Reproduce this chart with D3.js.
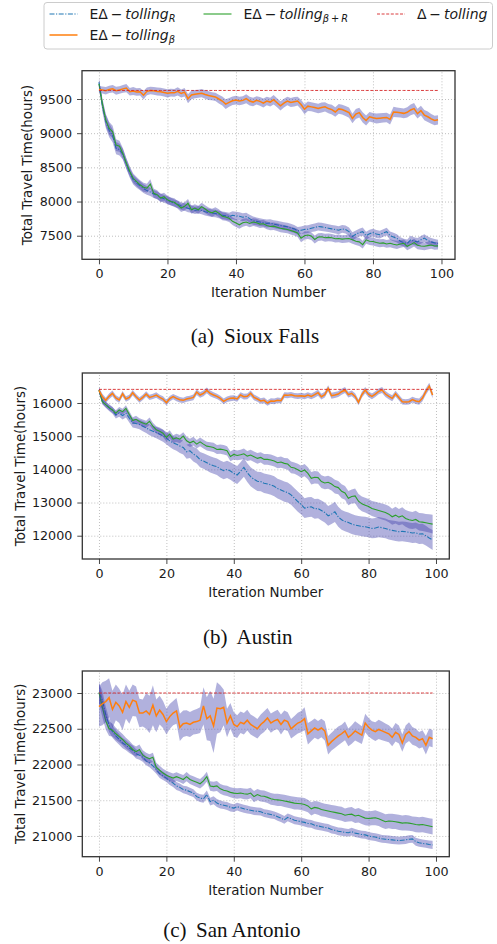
<!DOCTYPE html>
<html lang="en">
<head>
<meta charset="UTF-8">
<title>Total travel time per iteration</title>
<script src="https://d3js.org/d3.v7.min.js"></script>
<style>
    body { margin: 0; background: #fff; }
    svg { display: block; }
    .tick text { font-family: "DejaVu Sans", sans-serif; font-size: 12.7px; fill: #1a1a1a; }
    .tick line { stroke: #333; stroke-width: 0.9; }
    .grid line { stroke: #b0b0b0; stroke-width: 0.8; stroke-dasharray: 1,2; }
    .grid path, .axis path { display: none; }
    .frame { fill: none; stroke: #333; stroke-width: 1.3; }
    .band { fill: rgb(60,60,170); fill-opacity: 0.4; stroke: none; }
    .label { font-family: "DejaVu Sans", sans-serif; font-size: 13.4px; fill: #1a1a1a; }
    .caption { font-family: "Liberation Serif", "Times New Roman", serif; font-size: 21px; fill: #111; }
    .legend text { font-family: "DejaVu Sans", sans-serif; font-size: 14px; fill: #1a1a1a; }
</style>
</head>
<body>
<div id="chart"></div>
<script>
    var iterations = d3.range(100);
    var xTicks = [0, 20, 40, 60, 80, 100];

    // (a) Sioux Falls
    var sfYTicks = [7500, 8000, 8500, 9000, 9500];
    var sfDelta = 9625;
    var sfR = [9745,9400,9170,9040,8960,8780,8760,8690,8550,8420, 8320,8270,8230,8190,8160,8140,8110,8090,8060,8040,
        8020,8000,7975,7960,7935,7920,7900,7890,7870,7880, 7870,7850,7840,7830,7825,7810,7800,7790,7780,7800,
        7790,7785,7770,7780,7750,7720,7710,7700,7690,7680, 7685,7670,7660,7650,7640,7630,7615,7600,7570,7580,
        7590,7595,7610,7620,7635,7630,7620,7610,7600,7590, 7580,7600,7590,7560,7490,7520,7545,7560,7500,7530,
        7545,7525,7515,7540,7560,7500,7480,7460,7420,7400, 7385,7440,7420,7410,7440,7465,7430,7410,7395,7385];
    var sfRBand = [60,85,95,100,95,90,85,80,75,72, 70,68,66,64,62,60,60,58,57,56, 56,55,56,55,54,55,56,55,54,55,
        56,55,54,55,56,55,54,56,57,58, 60,58,57,56,58,60,58,57,56,58, 57,56,58,57,56,58,60,58,57,56,
        58,57,56,58,57,60,58,57,56,58, 57,56,58,60,62,58,57,60,58,57, 56,58,57,56,58,60,62,60,58,57,
        58,60,58,57,56,58,57,56,58,57];
    var sfBetaR = [9720,9430,9190,9070,9020,8825,8810,8700,8560,8440, 8340,8290,8245,8210,8195,8255,8120,8100,8050,8070,
        8025,8000,7990,7950,7905,7930,7975,7880,7905,7880, 7925,7890,7855,7835,7860,7830,7785,7775,7755,7710,
        7685,7660,7690,7700,7680,7700,7690,7670,7675,7650, 7635,7640,7625,7610,7600,7590,7575,7560,7540,7465,
        7500,7510,7495,7445,7480,7485,7470,7475,7470,7455, 7460,7450,7455,7460,7440,7420,7410,7370,7440,7420,
        7415,7400,7390,7395,7380,7390,7375,7365,7380,7390, 7345,7370,7400,7360,7350,7345,7355,7365,7350,7352];
    var sfBetaRBand = [60,80,90,95,90,85,80,78,75,72, 70,68,66,65,64,70,66,64,62,60, 60,58,58,57,58,60,62,58,57,58,
        58,57,56,58,57,56,58,57,56,55, 56,58,57,56,55,57,58,56,55,57, 56,55,57,58,56,55,57,56,58,60,
        58,57,56,58,57,56,58,57,56,55, 56,58,57,56,58,57,60,58,56,57, 58,56,57,58,56,57,58,60,57,56,
        58,57,56,58,57,56,58,57,56,55];
    var sfBeta = [9640,9632,9622,9641,9650,9622,9632,9648,9660,9607, 9617,9602,9607,9555,9612,9625,9620,9610,9605,9595,
        9583,9593,9590,9612,9580,9600,9505,9560,9570,9578, 9585,9565,9550,9540,9530,9500,9470,9425,9450,9475,
        9485,9470,9480,9505,9470,9455,9480,9465,9440,9470, 9455,9490,9445,9400,9440,9470,9450,9460,9470,9420,
        9350,9395,9385,9375,9360,9375,9385,9360,9345,9310, 9355,9345,9325,9300,9215,9280,9300,9230,9185,9240,
        9225,9215,9220,9225,9230,9200,9310,9305,9300,9290, 9305,9340,9360,9285,9330,9265,9240,9210,9185,9195];
    var sfBetaBand = [50,52,55,52,56,58,54,56,60,55, 58,56,55,62,58,56,57,60,58,57, 60,58,57,60,58,62,66,64,60,58,
        60,62,63,60,60,64,66,70,64,62, 64,62,60,66,64,62,62,64,66,62, 64,70,66,68,64,62,66,70,64,70,
        72,70,66,68,70,72,68,67,70,70, 72,70,72,75,70,72,72,75,72,70, 70,72,72,70,70,72,75,72,70,72,
        75,78,80,72,70,75,78,72,70,68];

    // (b) Austin
    var auYTicks = [12000, 13000, 14000, 15000, 16000];
    var auDelta = 16410;
    var auR = [16400,16060,15950,15860,15780,15640,15700,15620,15690,15540, 15400,15380,15350,15300,15250,15190,15150,15110,15060,15010,
        14940,14860,14800,14760,14700,14660,14530,14560,14460,14400, 14290,14250,14200,14150,14110,14080,14010,13960,14000,13950,
        13880,13830,13940,14060,13900,13780,13700,13640,13630,13580, 13560,13530,13490,13420,13380,13330,13300,13230,13130,13030,
        12940,12830,12860,12870,12810,12820,12760,12700,12600,12650, 12720,12570,12480,12430,12400,12350,12320,12300,12280,12270,
        12250,12220,12230,12260,12240,12220,12180,12160,12140,12120, 12130,12120,12100,12080,12090,12050,12060,12000,11930,11870];
    var auRBand = [80,90,95,100,105,110,115,120,125,130, 135,140,145,150,155,160,165,170,175,180, 185,190,195,200,205,210,212,218,222,226,
        230,234,238,242,246,250,254,258,262,266, 270,272,276,280,282,286,288,290,292,295, 296,298,300,300,302,305,300,298,302,305,
        300,298,302,300,298,295,300,302,298,300, 305,300,298,296,300,302,298,295,300,302, 298,300,302,305,300,298,295,300,302,298,
        300,302,298,300,305,302,300,298,295,300];
    var auBetaR = [16390,16040,15950,15860,15790,15690,15790,15740,15840,15650, 15470,15510,15440,15400,15360,15450,15300,15190,15150,15090,
        14960,15060,14910,14950,14910,15000,14860,14800,14850,14760, 14830,14760,14700,14680,14660,14600,14610,14590,14560,14390,
        14450,14420,14440,14470,14400,14430,14380,14330,14360,14300, 14300,14280,14250,14200,14220,14180,14160,14060,14040,13990,
        13930,13980,13880,13730,13760,13750,13630,13590,13610,13560, 13480,13450,13340,13290,13130,13180,13200,13040,12960,12920,
        12880,12820,12790,12760,12730,12700,12650,12570,12620,12560, 12600,12520,12480,12460,12490,12420,12410,12390,12370,12350];
    var auBetaRBand = [70,75,80,82,85,88,92,90,95,98, 100,102,100,105,108,110,106,112,115,114, 118,120,116,122,125,120,128,126,130,128,
        132,135,130,138,140,136,142,145,140,148, 150,146,152,155,150,158,155,160,156,162, 160,165,162,168,170,165,172,175,170,178,
        180,185,182,188,190,186,195,192,198,200, 205,202,210,208,215,212,220,218,225,222, 230,228,235,232,240,238,245,242,250,248,
        255,252,260,258,265,262,270,268,275,280];
    var auBeta = [16380,16190,16080,16200,16290,16150,16090,16280,16120,16170, 16310,16190,16090,16170,16270,16170,16200,16240,16170,16120,
        16010,16130,16190,16140,16100,16080,16120,16140,16170,16330, 16240,16290,16380,16290,16240,16200,16140,16050,16110,16140,
        16150,16120,16240,16190,16200,16290,16170,16120,16060,16080, 16000,16060,16050,16080,16070,16240,16230,16250,16220,16210,
        16220,16200,16240,16200,16250,16310,16190,16250,16440,16220, 16240,16270,16340,16390,16250,16290,16200,16020,16250,16390,
        16260,16200,16270,16350,16390,16270,16200,16140,16280,16160, 16040,16030,16040,16100,16060,16040,16150,16350,16510,16240];
    var auBetaBand = [90,85,80,85,90,85,80,85,80,82, 85,80,82,80,85,82,80,84,82,80, 85,82,80,84,82,80,85,82,84,86,
        85,88,90,86,84,82,80,85,82,84, 85,84,82,86,84,85,88,84,82,85, 86,84,85,82,84,86,88,85,84,86,
        88,85,86,88,90,92,88,86,95,90, 88,86,90,92,88,86,90,88,92,94, 90,88,86,90,92,88,86,90,88,86,
        85,84,86,88,90,92,95,98,100,95];

    // (c) San Antonio
    var saYTicks = [21000, 21500, 22000, 22500, 23000];
    var saDelta = 23000;
    var saR = [23000,22900,22700,22550,22460,22400,22350,22300,22270,22230, 22200,22150,22130,22100,22050,22020,21980,21930,21870,21840,
        21810,21770,21740,21700,21680,21650,21640,21620,21600,21550, 21530,21520,21580,21480,21500,21460,21440,21430,21420,21400,
        21390,21410,21395,21380,21370,21360,21350,21345,21340,21320, 21310,21300,21290,21270,21250,21225,21260,21240,21220,21210,
        21200,21190,21175,21170,21150,21140,21130,21120,21110,21090, 21080,21065,21060,21050,21045,21060,21040,21030,21020,21015,
        21000,20990,20985,20970,20960,20955,20950,20945,20940,20935, 20940,20945,20955,20960,20920,20905,20895,20890,20880,20875];
    var saRBand = [140,130,110,95,85,80,75,72,70,68, 66,65,64,62,62,60,60,58,58,57, 56,56,55,56,55,54,55,56,55,54,
        55,56,55,54,55,56,55,54,55,56, 55,54,55,56,55,54,56,55,54,55, 56,55,54,56,55,54,55,56,55,54,
        55,56,55,54,56,55,54,55,56,55, 54,55,56,55,54,55,56,55,54,55, 56,55,54,56,55,54,55,56,55,54,
        55,56,55,54,56,55,54,55,56,58];
    var saBetaR = [23010,22800,22610,22500,22480,22430,22390,22350,22300,22260, 22210,22180,22210,22130,22100,22080,22100,21960,21920,21880,
        21850,21830,21810,21830,21810,21790,21830,21790,21770,21750, 21730,21770,21830,21700,21690,21700,21660,21640,21630,21610,
        21600,21595,21600,21590,21585,21600,21550,21580,21560,21555, 21540,21520,21510,21505,21500,21490,21480,21470,21460,21455,
        21450,21440,21420,21380,21400,21390,21370,21360,21350,21340, 21330,21320,21310,21290,21300,21305,21280,21290,21270,21250,
        21245,21250,21255,21240,21220,21200,21210,21205,21200,21190, 21180,21185,21180,21170,21160,21155,21160,21150,21140,21130];
    var saBetaRBand = [150,140,120,100,90,85,80,78,75,72, 70,70,68,68,66,65,66,65,64,62, 62,62,64,62,60,62,64,62,64,66,
        66,68,70,66,68,70,68,70,72,70, 72,74,72,75,76,74,78,76,78,80, 80,82,80,84,82,85,86,84,88,86,
        88,90,88,92,90,92,94,92,95,94, 96,95,98,96,98,100,98,100,102,100, 102,100,104,102,105,104,102,106,104,106,
        105,108,106,104,108,106,108,110,108,110];
    var saBeta = [22810,22850,22880,22935,22770,22870,22820,22730,22880,22800, 22900,22880,22720,22720,22750,22700,22830,22680,22760,22700,
        22600,22670,22720,22750,22520,22570,22580,22560,22590,22600, 22620,22820,22640,22680,22540,22790,22780,22800,22580,22680,
        22560,22530,22590,22570,22620,22560,22530,22500,22560,22600, 22650,22580,22610,22630,22560,22620,22600,22500,22540,22580,
        22600,22640,22430,22470,22510,22480,22510,22470,22270,22320, 22360,22400,22430,22470,22380,22420,22470,22440,22410,22580,
        22520,22480,22460,22490,22470,22450,22430,22380,22450,22420, 22300,22420,22460,22400,22380,22340,22360,22270,22380,22360];
    var saBetaBand = [280,300,290,270,260,250,240,250,240,230, 220,210,200,190,250,260,280,230,200,190, 180,175,170,180,190,185,180,175,170,175,
        180,260,300,350,380,360,330,250,200,180, 170,160,150,150,145,140,140,135,140,145, 140,135,130,135,140,135,130,135,140,145,
        150,160,150,140,135,130,130,135,130,125, 130,130,125,130,125,130,135,130,125,130, 130,125,130,135,130,125,120,125,130,125,
        120,125,130,125,120,115,120,130,125,120];

    var captionTags = ["(a)", "(b)", "(c)"];
    var captionNames = ["Sioux Falls", "Austin", "San Antonio"];

    var colors = { r: "#1f77b4", betaR: "#2ca02c", delta: "#d62728", beta: "#ff7f0e" };
    var dashes = { r: "5,1.5,1.2,1.5", betaR: null, delta: "3,1.6", beta: null };
    var widths = { r: 1.1, betaR: 1.1, delta: 0.9, beta: 1.5 };

    var panels = [
        { left: 82, right: 455, top: 70.7, bottom: 259.3, yDomain: [7155, 9914], yTicks: sfYTicks,
          r: sfR, rBand: sfRBand, betaR: sfBetaR, betaRBand: sfBetaRBand, beta: sfBeta, betaBand: sfBetaBand, delta: sfDelta,
          yLabelX: 31.7, capTagX: 190.7, capNameX: 224, capY: 342.7 },
        { left: 82.3, right: 449.3, top: 373, bottom: 559, yDomain: [11298, 16904], yTicks: auYTicks,
          r: auR, rBand: auRBand, betaR: auBetaR, betaRBand: auBetaRBand, beta: auBeta, betaBand: auBetaBand, delta: auDelta,
          yLabelX: 25.4, capTagX: 203, capNameX: 236.5, capY: 644 },
        { left: 82.3, right: 449.3, top: 671, bottom: 856.7, yDomain: [20710, 23308], yTicks: saYTicks,
          r: saR, rBand: saRBand, betaR: saBetaR, betaRBand: saBetaRBand, beta: saBeta, betaBand: saBetaBand, delta: saDelta,
          yLabelX: 25.4, capTagX: 163.3, capNameX: 196, capY: 936.5 }
    ];

    var svg = d3.select("#chart")
        .append("svg")
        .attr("width", 497)
        .attr("height", 944);

    panels.forEach(function(p, k) {
        var x = d3.scaleLinear().domain([-4.95, 103.95]).range([p.left, p.right]);
        var y = d3.scaleLinear().domain(p.yDomain).range([p.bottom, p.top]);
        var h = p.bottom - p.top, w = p.right - p.left;

        // dotted grid
        svg.append("g").attr("class", "grid")
            .attr("transform", "translate(0," + p.bottom + ")")
            .call(d3.axisBottom(x).tickValues(xTicks).tickSize(-h).tickFormat(""));
        svg.append("g").attr("class", "grid")
            .attr("transform", "translate(" + p.left + ",0)")
            .call(d3.axisLeft(y).tickValues(p.yTicks).tickSize(-w).tickFormat(""));

        var g = svg.append("g");
        g.append("clipPath").attr("id", "clip" + k)
            .append("rect").attr("x", p.left).attr("y", p.top).attr("width", w).attr("height", h);
        var plot = g.append("g").attr("clip-path", "url(#clip" + k + ")");

        var area = function(vals, band) {
            return d3.area()
                .x(function(i) { return x(i); })
                .y0(function(i) { return y(vals[i] - band[i]); })
                .y1(function(i) { return y(vals[i] + band[i]); })(iterations);
        };
        var line = function(vals) {
            return d3.line()
                .x(function(i) { return x(i); })
                .y(function(i) { return y(vals[i]); })(iterations);
        };

        var series = [
            { key: "r", vals: p.r, band: p.rBand },
            { key: "betaR", vals: p.betaR, band: p.betaRBand },
            { key: "beta", vals: p.beta, band: p.betaBand }
        ];
        series.forEach(function(s) {
            plot.append("path").attr("class", "band").attr("d", area(s.vals, s.band));
            plot.append("path").attr("d", line(s.vals))
                .attr("fill", "none")
                .attr("stroke", colors[s.key])
                .attr("stroke-width", widths[s.key])
                .attr("stroke-dasharray", dashes[s.key]);
        });
        var deltaVals = iterations.map(function() { return p.delta; });
        plot.append("path").attr("d", line(deltaVals))
            .attr("fill", "none")
            .attr("stroke", colors.delta)
            .attr("stroke-width", widths.delta)
            .attr("stroke-dasharray", dashes.delta);

        // axes
        svg.append("g").attr("class", "axis")
            .attr("transform", "translate(0," + p.bottom + ")")
            .call(d3.axisBottom(x).tickValues(xTicks).tickSize(5).tickPadding(5));
        svg.append("g").attr("class", "axis")
            .attr("transform", "translate(" + p.left + ",0)")
            .call(d3.axisLeft(y).tickValues(p.yTicks).tickSize(5).tickPadding(5).tickFormat(d3.format("d")));

        svg.append("rect").attr("class", "frame")
            .attr("x", p.left).attr("y", p.top).attr("width", w).attr("height", h);

        svg.append("text").attr("class", "label")
            .attr("x", (p.left + p.right) / 2).attr("y", p.bottom + 38)
            .attr("text-anchor", "middle")
            .text("Iteration Number");
        svg.append("text").attr("class", "label")
            .attr("transform", "translate(" + p.yLabelX + "," + ((p.top + p.bottom) / 2) + ") rotate(-90)")
            .attr("text-anchor", "middle")
            .text("Total Travel Time(hours)");

        svg.append("text").attr("class", "caption")
            .attr("x", p.capTagX).attr("y", p.capY).text(captionTags[k]);
        svg.append("text").attr("class", "caption")
            .attr("x", p.capNameX).attr("y", p.capY).text(captionNames[k]);
    });

    // legend
    var legend = svg.append("g").attr("class", "legend");
    legend.append("rect")
        .attr("x", 44).attr("y", 2.5).attr("width", 448.5).attr("height", 46.5)
        .attr("rx", 3).attr("fill", "#fff").attr("stroke", "#cccccc").attr("stroke-width", 1);

    var legendItems = [
        { key: "r", x: 49.5, y: 14, main: "E\u0394\u2009\u2212\u2009", it: "tolling", sub: [["R", true]] },
        { key: "betaR", x: 203.5, y: 14, main: "E\u0394\u2009\u2212\u2009", it: "tolling", sub: [["\u03b2", true], ["\u2009+\u2009", false], ["R", true]] },
        { key: "delta", x: 377, y: 14, main: "\u0394\u2009\u2212\u2009", it: "tolling", sub: [] },
        { key: "beta", x: 49.5, y: 35, main: "E\u0394\u2009\u2212\u2009", it: "tolling", sub: [["\u03b2", true]] }
    ];
    legendItems.forEach(function(d) {
        legend.append("line")
            .attr("x1", d.x).attr("x2", d.x + 28).attr("y1", d.y).attr("y2", d.y)
            .attr("stroke", colors[d.key])
            .attr("stroke-width", widths[d.key])
            .attr("stroke-dasharray", dashes[d.key]);
        var t = legend.append("text").attr("x", d.x + 40).attr("y", d.y + 5.3);
        t.append("tspan").text(d.main);
        t.append("tspan").attr("font-style", "italic").text(d.it);
        d.sub.forEach(function(s, j) {
            var ts = t.append("tspan")
                .attr("font-size", "9.8px")
                .attr("font-style", s[1] ? "italic" : "normal")
                .text(s[0]);
            if (j === 0) ts.attr("dy", 3);
        });
    });
</script>
</body>
</html>
